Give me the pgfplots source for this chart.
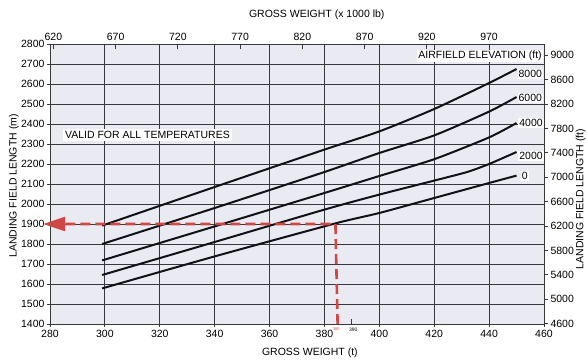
\documentclass[border=0pt]{standalone}
\usepackage{pgfplots}
\pgfplotsset{compat=1.18}
\usepackage{fontspec}
\setmainfont{Liberation Sans}
\usetikzlibrary{arrows.meta}
\definecolor{bgcol}{RGB}{234,234,243}
\definecolor{gridcol}{RGB}{55,55,62}
\definecolor{redd}{RGB}{206,72,70}
\definecolor{curvecol}{RGB}{18,18,22}
\begin{document}
\begin{tikzpicture}
\pgfplotsset{every axis/.append style={
  scale only axis, width=494pt, height=280pt,
  /pgf/number format/assume math mode=true,
  /pgf/number format/1000 sep={},
  tick label style={font=\fontsize{10.5}{12}\selectfont},
  axis line style={gridcol, line width=0.9pt},
  tick style={gridcol, line width=0.8pt},
}}
% main axis: gross weight (t) vs landing field length (m)
\begin{axis}[
  xmin=280, xmax=460, ymin=1400, ymax=2800,
  xtick={280,300,...,460}, ytick={1400,1500,...,2800},
  tick pos=left, tick align=outside, major tick length=3pt,
  grid=major, major grid style={gridcol, line width=0.9pt},
  axis background/.style={fill=bgcol},
  extra x ticks={390}, extra x tick labels={},
  extra x tick style={grid=none, tick align=inside, major tick length=5pt},
  yticklabel style={xshift=1pt},
  clip=false,
]
% 8000 ft
\addplot[curvecol, line width=2pt, smooth, tension=0.4] coordinates {
 (299,1892) (340,2085) (380,2272) (400,2363) (420,2475) (440,2605) (450,2675)};
% 6000 ft
\addplot[curvecol, line width=2pt, smooth, tension=0.4] coordinates {
 (299,1800) (340,1980) (380,2160) (400,2255) (420,2343) (440,2462) (450,2535)};
% 4000 ft
\addplot[curvecol, line width=2pt, smooth, tension=0.4] coordinates {
 (299,1718) (340,1888) (380,2055) (400,2140) (420,2224) (440,2333) (450,2405)};
% 2000 ft
\addplot[curvecol, line width=2pt, smooth, tension=0.4] coordinates {
 (299,1645) (340,1810) (380,1972) (400,2047) (420,2117) (432,2160) (440,2200) (450,2260)};
% 0 ft
\addplot[curvecol, line width=2pt, smooth, tension=0.4] coordinates {
 (299,1578) (340,1738) (384,1903) (400,1955) (420,2030) (440,2105) (450,2142)};
% red example path
\addplot[redd, line width=2.6pt, dash pattern=on 10pt off 5pt,
  -{Triangle[length=22pt, width=14pt]}] coordinates {
 (384.8,1400) (384,1900) (277.5,1900)};

% curve labels
\begin{scope}[every node/.style={fill=white, inner sep=1pt, font=\fontsize{10.5}{12}\selectfont}]
\node[anchor=west] at (axis cs:450.3,2650) {8000};
\node[anchor=west] at (axis cs:450.3,2530) {6000};
\node[anchor=west] at (axis cs:450.6,2405) {4000};
\node[anchor=west] at (axis cs:450.6,2240) {2000};
\node[anchor=west] at (axis cs:451.5,2140) {0};
\node[anchor=east] at (axis cs:459.6,2740) {AIRFIELD ELEVATION (ft)};
\node[inner sep=2pt] at (axis cs:315.5,2345) {VALID FOR ALL TEMPERATURES};
\end{scope}
\node[font=\fontsize{4}{4}\selectfont, text=redd] at (axis cs:384.3,1373) {385};
\node[font=\fontsize{5}{5}\selectfont] at (axis cs:390.5,1370) {390};

% axis titles
\node[font=\fontsize{10.5}{12}\selectfont] at (axis description cs:0.526,-0.104) {GROSS WEIGHT (t)};
\node[font=\fontsize{10.5}{12}\selectfont] at (axis description cs:0.540,1.104) {GROSS WEIGHT (x 1000 lb)};
\node[font=\fontsize{10.5}{12}\selectfont, rotate=90] at (axis description cs:-0.073,0.493) {LANDING FIELD LENGTH (m)};
\node[font=\fontsize{10.5}{12}\selectfont, rotate=90] at (axis description cs:1.074,0.446) {LANDING FIELD LENGTH (ft)};
\end{axis}

% top axis: gross weight (x 1000 lb)
\begin{axis}[
  xmin=617.29, xmax=1014.13, ymin=0, ymax=1,
  axis x line*=top, axis y line=none,
  xtick={620,670,...,970},
  tick align=inside, major tick length=5pt,
]
\end{axis}

% right axis: landing field length (ft)
\begin{axis}[
  xmin=0, xmax=1, ymin=4593.2, ymax=9186.4,
  axis y line*=right, axis x line=none,
  ytick={4600,5000,...,9000},
  tick align=outside, major tick length=4pt,
  yticklabel style={xshift=-1pt},
]
\end{axis}

\pgfresetboundingbox
\path[use as bounding box] (-50pt,-39pt) rectangle (536pt,324pt);
\end{tikzpicture}
\end{document}
